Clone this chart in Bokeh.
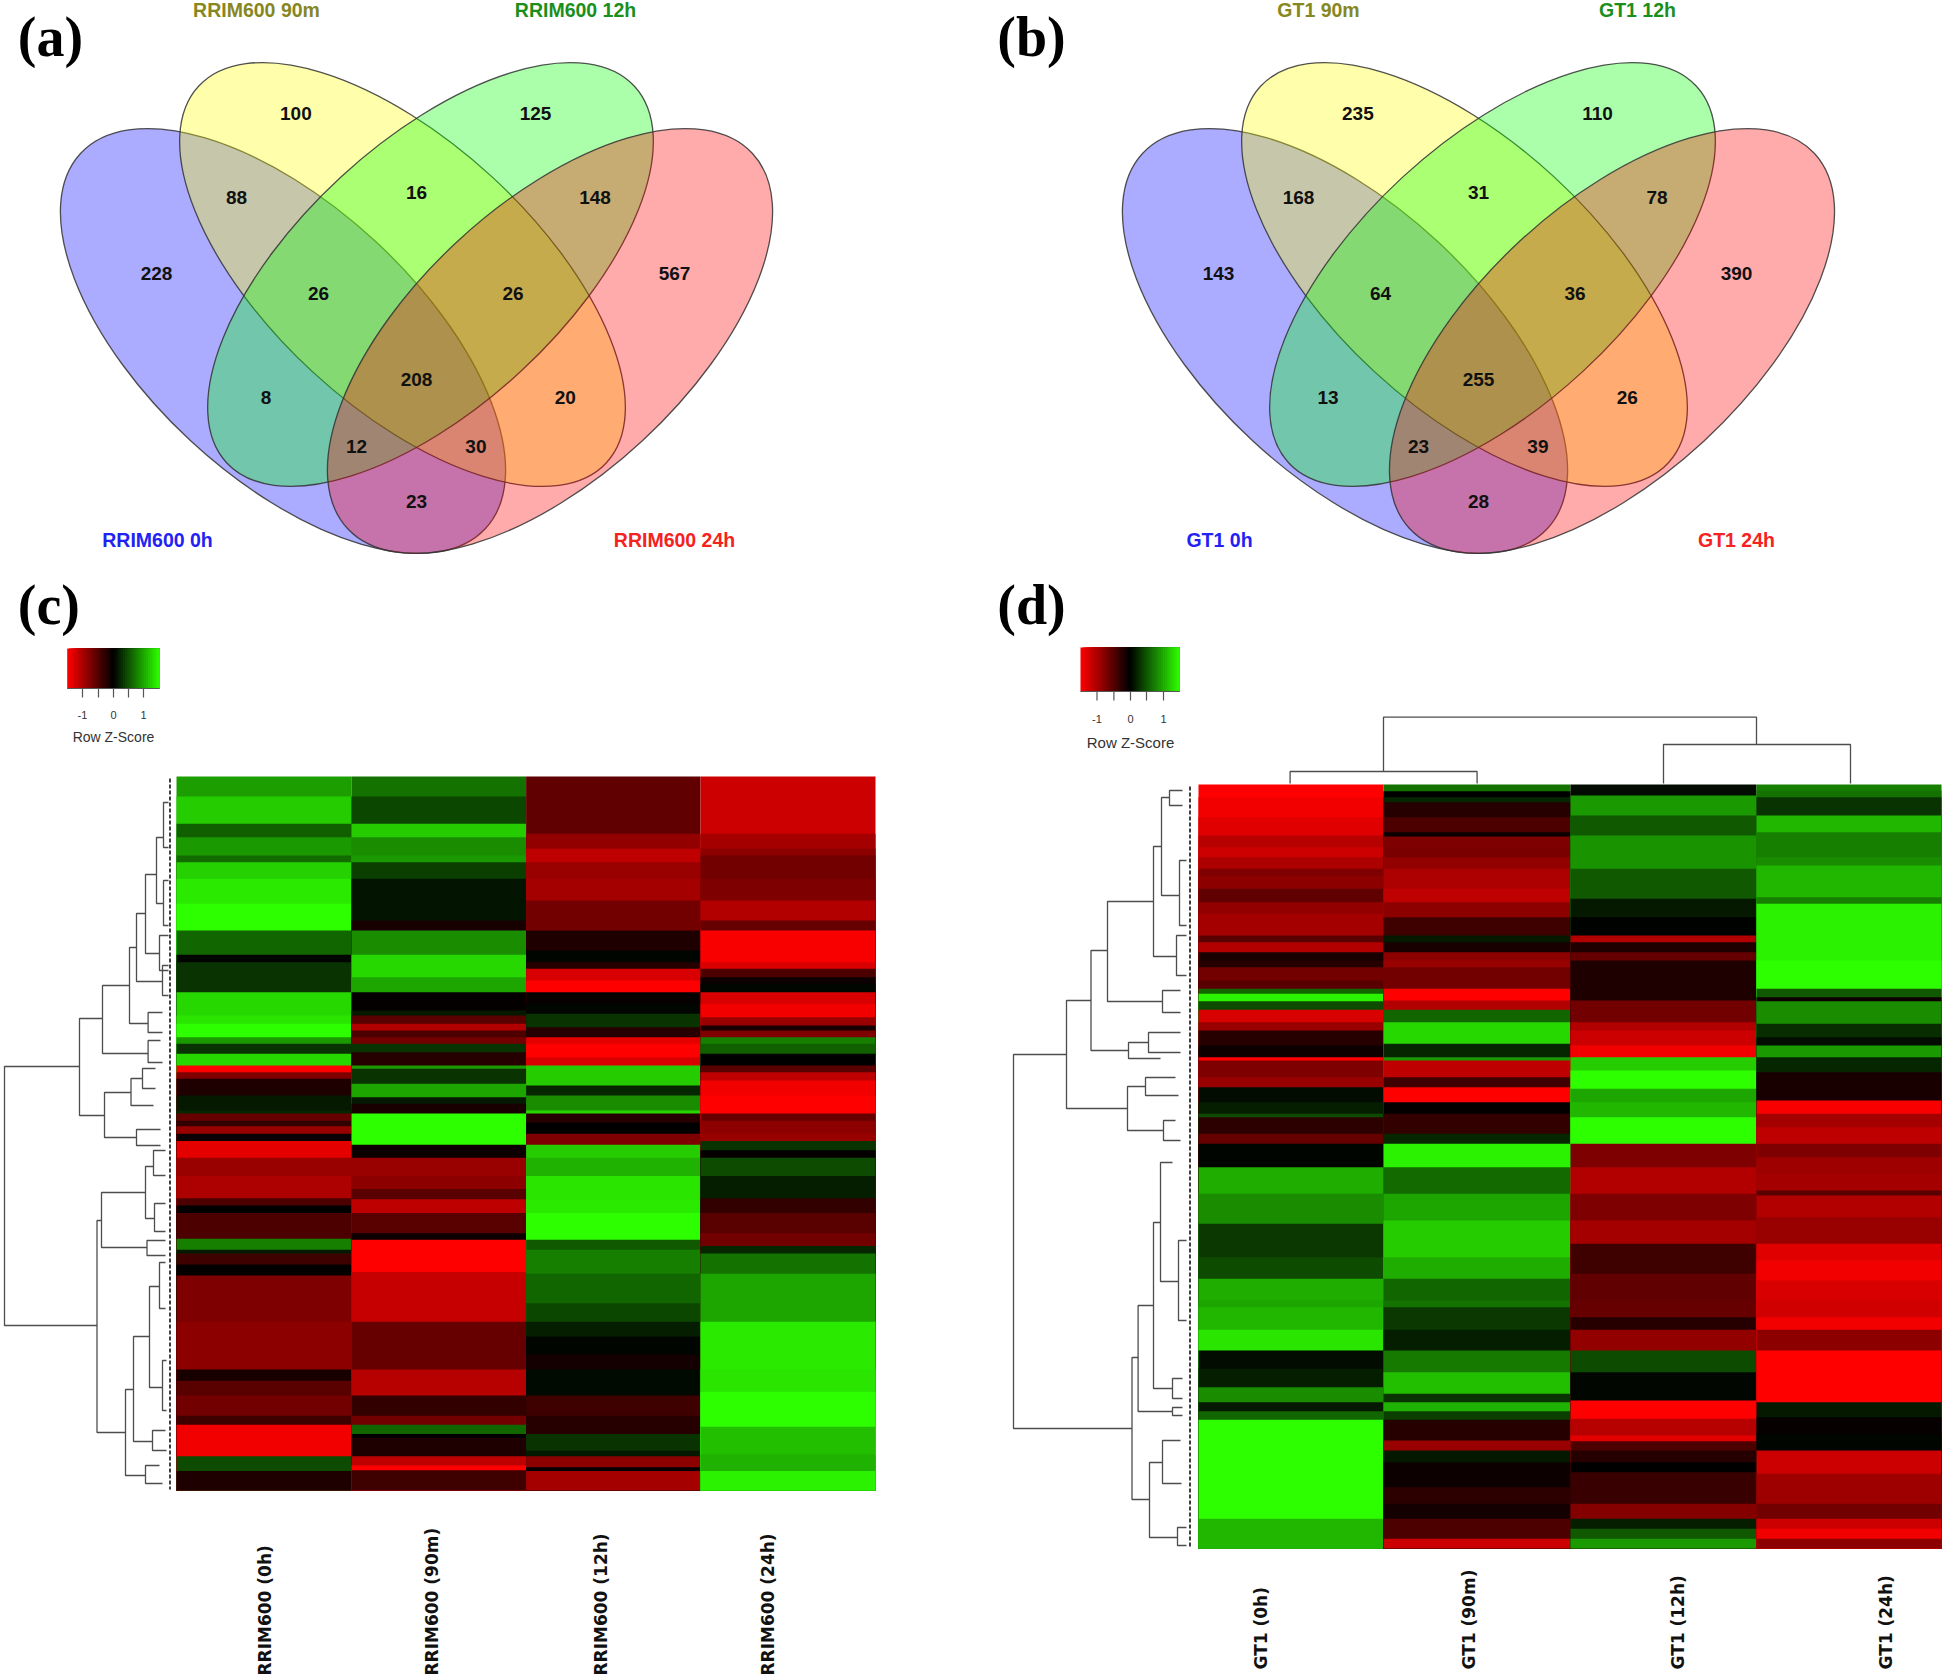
from bokeh.plotting import figure
from bokeh.models import Range1d
from bokeh.embed import file_html
from bokeh.resources import INLINE
from bokeh.core.properties import value
import math

WIDTH, HEIGHT = 1946, 1678

# ---------- Venn data ----------
venn_a = [100,125,88,16,148,228,26,26,567,8,208,20,12,30,23]
venn_b = [235,110,168,31,78,143,64,36,390,13,255,26,23,39,28]
labels_a = ["RRIM600 90m","RRIM600 12h","RRIM600 0h","RRIM600 24h"]
labels_b = ["GT1 90m","GT1 12h","GT1 0h","GT1 24h"]
label_colors = ["#87871f","#1b8f1b","#2222f5","#f52222"]
label_x = [256,575,157,674]
label_y = [9,9,539,539]
region_x = [295.4,535,236,416,594.5,156,318,512.6,674,265.6,416,564.7,356,475.4,416]
region_y = [113,113,197,192,197,273,293,293,273,397,378.5,397,445.6,445.6,501]
ell_x = [282.5,402,430,549.5]
ell_y = [340.5,274,274,340.5]
ell_w = [552,555,555,552]
ell_h = [272,265,265,272]
ell_angle = [-42.8,-42.7,42.7,42.8]
ell_color = ["#0000ff","#ffff00","#00ff00","#ff0000"]
B_SHIFT = 1062

# ---------- heatmap (c): (band end in crop units, z value) ----------
c_0h_u = [(78,.62),(160,.8),(200,.38),(255,.6),(275,.42),(325,.82),(400,.92),(480,1.0),(553,.4),(575,.02),(665,.2),
          (735,.85),(760,.9),(800,1.0),(820,.6),(850,.2),(885,.85),(905,-1),(925,-.5),(975,-.12),(1020,.1)]
c_90_u = [(78,.45),(160,.28),(200,.8),(255,.55),(275,.6),(325,.25),(450,.08),(480,-.1),(553,.55),(620,.85),(665,.65),
          (720,-.02),(735,.1),(760,-.35),(780,-.7),(800,-.3),(820,-.45),(845,.2),(885,-.15),(895,.6),(940,.2),(980,.65),(1000,.1),(1020,-.1)]
c_12_u = [(190,-.38),(235,-.58),(275,-.75),(325,-.6),(390,-.65),(480,-.45),(540,-.12),(575,.02),(595,-.15),(630,-.85),(665,-1),
          (700,-.03),(730,.03),(770,.2),(800,-.15),(820,-.9),(860,-1),(885,-.85),(945,.8),(975,.15),(1020,.55)]
c_24_u = [(190,-.8),(235,-.65),(255,-.55),(325,-.45),(390,-.5),(450,-.7),(480,-.4),(575,-.98),(595,-.85),(620,-.3),(640,-.05),(665,.03),
          (700,-.85),(740,-.95),(765,-.6),(780,-.1),(800,-.5),(820,.5),(850,.38),(885,0),(905,-.35),(930,-.75),(975,-.95),(1020,-1)]
c_0h_l = [(35,.15),(55,-.4),(70,-.2),(90,-.6),(110,-.05),(155,-.9),(205,-.6),(265,-.68),(285,-.3),(305,0),(375,-.3),(405,.5),(415,.1),
          (445,-.25),(475,-.02),(600,-.5),(730,-.55),(760,-.1),(800,-.35),(855,-.45),(880,-.25),(965,-.95),(1005,.3),(1058,-.12)]
c_90_l = [(35,-.1),(120,1.0),(155,-.05),(205,-.6),(240,-.55),(268,-.35),(305,-.75),(360,-.35),(378,-.05),(465,-1),(600,-.78),(730,-.4),
          (800,-.72),(855,-.2),(880,-.45),(905,.4),(915,0),(965,-.12),(990,-.75),(1003,-1),(1058,-.25)]
c_12_l = [(35,.85),(60,-.15),(90,0),(120,-.5),(155,.8),(205,.7),(270,.9),(305,.92),(378,1.0),(405,.35),(470,.5),(550,.4),(600,.28),(640,.12),
          (690,.02),(730,-.08),(800,.04),(855,-.25),(905,-.15),(950,.2),(965,.1),(995,-.55),(1005,-.02),(1058,-.65)]
c_24_l = [(35,-1),(55,-.4),(90,-.55),(110,-.6),(135,.2),(155,-.02),(205,.3),(265,.12),(305,-.2),(360,-.35),(395,-.45),(415,.15),(470,.45),
          (600,.65),(730,.92),(790,.9),(885,1.0),(960,.75),(1005,.7),(1058,.95)]

# ---------- heatmap (d) ----------
d_0h_1 = [(530,-1),(590,-.95),(645,-.88),(680,-.72),(710,-.8),(745,-.68),(765,-.5),(805,-.55),(845,-.38),(880,-.58),(945,-.65),(965,-.35),(995,-.7),(1020,-.1)]
d_0h_2 = [(20,-.15),(60,-.45),(85,-.35),(100,.4),(122,.95),(148,.3),(185,-.85),(210,-.6),(255,-.15),(290,-.05),(300,-1),(350,-.5),(380,-.6),(425,.05),
          (460,.12),(470,.3),(520,-.18),(550,-.4),(620,.02),(700,.68),(790,.55),(890,.22),(955,.3),(1020,.68)]
d_0h_3 = [(20,.65),(88,.72),(150,.9),(205,.05),(260,.12),(305,.55),(332,.1),(358,.4),(655,1.0),(745,.72)]
d_90_1 = [(512,.45),(530,0),(545,.15),(590,-.15),(635,-.3),(648,-.05),(680,-.5),(710,-.48),(745,-.58),(805,-.68),(845,-.75),(890,-.55),(945,-.25),(965,.1),(995,-.1),(1020,-.55)]
d_90_2 = [(20,-.6),(85,-.45),(120,-1),(148,-.7),(185,.4),(250,.85),(290,.15),(300,.6),(350,-.75),(380,-.25),(425,-1),(460,-.02),(520,-.2),(550,.15),(620,.95),
          (700,.42),(780,.65),(890,.8),(955,.68),(1020,.4)]
d_90_3 = [(20,.45),(88,.22),(150,.12),(215,.48),(280,.75),(305,.2),(332,.7),(358,.25),(420,-.15),(450,-.6),(485,.1),(560,-.05),(610,-.18),(655,-.08),(715,-.3),(745,-.8)]
d_12_1 = [(525,.05),(585,.6),(645,.35),(745,.58),(835,.35),(890,.1),(945,.01),(965,-.7),(995,-.12),(1020,-.4)]
d_12_2 = [(120,-.12),(185,-.45),(210,-.7),(255,-.8),(290,-.95),(330,.8),(385,1.0),(425,.65),(470,.72),(550,1.0),(620,-.5),(700,-.7),(780,-.5),(850,-.65),(940,-.25),(1020,-.38)]
d_12_3 = [(50,-.4),(88,-.15),(150,-.58),(215,.3),(300,.03),(355,-1),(405,-.72),(422,-.9),(450,-.3),(485,-.15),(515,0),(610,-.22),(655,-.52),(685,.12),(715,.35),(745,.6)]
d_24_1 = [(510,.5),(530,.45),(585,.2),(635,.72),(710,.5),(735,.55),(830,.72),(850,.5),(1020,.95)]
d_24_2 = [(85,1.0),(110,.35),(122,-.05),(190,.55),(230,.18),(255,.05),(290,.6),(335,.15),(420,-.1),(460,-.98),(500,-.65),(550,-.75),(590,-.5),(640,-.62),(690,-.65),(705,-.35),
          (770,-.7),(850,-.6),(900,-.88),(960,-.95),(1020,-.85)]
d_24_3 = [(50,-.82),(88,-.95),(150,-.55),(305,-1),(350,.1),(400,-.03),(450,.02),(520,-.8),(610,-.62),(655,-.45),(685,-.8),(715,-.95),(745,-.55)]

c_cols = ["RRIM600 (0h)","RRIM600 (90m)","RRIM600 (12h)","RRIM600 (24h)"]
d_cols = ["GT1 (0h)","GT1 (90m)","GT1 (12h)","GT1 (24h)"]
c_label_x = [264,431,600.6,767]
d_label_x = [1260,1468,1677,1885]

# dendrogram merges: height, upper leaf, lower leaf, upper child height, lower child height
c_tree = [(4,1066,1325,79,96.5),(79,1018,1115,102,104),(102,985,1053,129,147.6),(129,947,1023,136,147.6),(136,913,981,145,162),
          (145,874,953,156,159),(156,837,903,163,163),(163,802,847,168,168),(163,880,925,168,168),(159,935,970,168,168),(162,965,995,168,168),
          (147.6,1012,1032,162,162),(147.6,1040,1062,160,162),(104,1092,1137,130.5,136),(130.5,1078,1105,142,153),(136,1129,1145,160,160),
          (142,1068,1088,155,155),(96.5,1220,1432,101,125),(101,1192,1247,145,146.5),(145,1166,1218,153,154),(153,1150,1175,165,165),
          (154,1203,1231,165,165),(146.5,1240,1255,165,165),(125,1389,1475,133,145),(133,1336,1441,149,152),(149,1286,1387,159,162),
          (159,1262,1308,165,165),(162,1360,1410,166,166),(152,1430,1450,165,166),(145,1465,1483,159,162)]
d_tree = [(1013,1054,1428,1066,1131.5),(1066,1000,1108,1090.5,1127),(1090.5,950,1050,1107,1128),(1107,901,1001,1153,1162),
          (1153,846,956,1161,1176),(1161,797,895,1169,1179),(1169,790,805,1182,1182),(1179,860,925,1186,1186),(1176,935,975,1186,1186),
          (1162,990,1012,1180,1180),(1128,1042,1058,1148,1160),(1148,1032,1052,1180,1180),(1127,1086,1130,1145,1163),(1145,1077,1095,1175,1178),
          (1163,1120,1140,1175,1180),(1131.5,1357,1499,1137.6,1149),(1137.6,1305,1411,1153,1172),(1153,1222,1388,1160,1172),
          (1160,1162,1281,1172,1178),(1172,1378,1398,1182,1182),(1172,1407,1415,1182,1182),(1178,1240,1320,1186,1186),(1149,1462,1537,1162,1177),
          (1162,1440,1483,1180,1181),(1177,1527,1545,1186,1186)]
col_tree = [(716.7,1383,1756,771,744),(771,1289.6,1476.6,783,783),(744,1663,1850,783,783)]


def z_color(v):
    m = abs(v)
    if v < 0:
        return "#%02x%02x%02x" % (int(255*m), 0, 0)
    return "#%02x%02x%02x" % (int(46*m), int(255*m), 0)


p = figure(width=WIDTH, height=HEIGHT, x_range=Range1d(0, WIDTH), y_range=Range1d(HEIGHT, 0),
           toolbar_location=None, output_backend="svg", min_border=0, background_fill_color="white", border_fill_color="white")
p.axis.visible = False
p.grid.visible = False
p.outline_line_color = None

# Venn panels
for shift, counts, names in ((0, venn_a, labels_a), (B_SHIFT, venn_b, labels_b)):
    p.ellipse([x+shift for x in ell_x], ell_y, width=ell_w, height=ell_h, angle=ell_angle, angle_units="deg",
              fill_color=ell_color, fill_alpha=0.33, line_color="#333333", line_width=1.3, line_alpha=0.85)
    p.text([x+shift for x in region_x], region_y, text=[str(c) for c in counts], text_align="center", text_baseline="middle",
           text_font=value("Liberation Sans"), text_font_style="bold", text_font_size="19px", text_color="#111111")
    p.text([x+shift for x in label_x], label_y, text=names, text_align="center", text_baseline="middle",
           text_font=value("Liberation Sans"), text_font_style="bold", text_font_size="19.5px", text_color=label_colors)


def draw_heat(col_edges, top, bottom, columns):
    left, right, t, b, col = [], [], [], [], []
    for i, crops in enumerate(columns):
        prev = top
        for y0, scale, bands in crops:
            for end, v in bands:
                left.append(col_edges[i]); right.append(col_edges[i+1])
                t.append(prev); b.append(bottom); col.append(z_color(v))
                prev = min(bottom, y0 + end/scale)
    p.quad(left=left, right=right, top=t, bottom=b, fill_color=col, line_color=None)


draw_heat([176,351,525.6,700,875], 776, 1490, [
    [(770,3,c_0h_u),(1100,2.713,c_0h_l)], [(770,3,c_90_u),(1100,2.713,c_90_l)],
    [(770,3,c_12_u),(1100,2.713,c_12_l)], [(770,3,c_24_u),(1100,2.713,c_24_l)]])
draw_heat([1198,1383,1570,1756,1941], 784, 1548, [
    [(620,3,d_0h_1),(960,3,d_0h_2),(1300,3,d_0h_3)], [(620,3,d_90_1),(960,3,d_90_2),(1300,3,d_90_3)],
    [(620,3,d_12_1),(960,3,d_12_2),(1300,3,d_12_3)], [(620,3,d_24_1),(960,3,d_24_2),(1300,3,d_24_3)]])


def draw_row_tree(tree):
    xs, ys = [], []
    for h, a, b, ca, cb in tree:
        xs.append([ca, h, h, cb]); ys.append([a, a, b, b])
    p.multi_line(xs, ys, line_color="#4d4d4d", line_width=1.3)


draw_row_tree(c_tree)
draw_row_tree(d_tree)
p.multi_line([[a, a, b, b] for _, a, b, _, _ in col_tree], [[ca, h, h, cb] for h, _, _, ca, cb in col_tree],
             line_color="#4d4d4d", line_width=1.3)
p.line([169.5, 169.5], [778, 1489], line_color="#111111", line_width=1.6, line_dash="4 2")
p.line([1189.5, 1189.5], [786, 1547], line_color="#111111", line_width=1.6, line_dash="4 2")

p.text(c_label_x, [1675]*4, text=c_cols, angle=math.pi/2, text_align="left", text_baseline="middle",
       text_font=value("DejaVu Sans"), text_font_style="bold", text_font_size="17px", text_color="#111111")
p.text(d_label_x, [1669]*4, text=d_cols, angle=math.pi/2, text_align="left", text_baseline="middle",
       text_font=value("DejaVu Sans"), text_font_style="bold", text_font_size="17px", text_color="#111111")


def draw_key(x0, x1, y0, y1, ticks, tick_end, lab_y, title_y, title_size):
    n = 48
    lo = [x0 + (x1-x0)*i/n for i in range(n)]
    cols = [z_color(-1 + 2*(i+.5)/n) for i in range(n)]
    p.quad(left=lo, right=[x1]*n, top=y0, bottom=y1, fill_color=cols, line_color=None)
    p.segment(x0=ticks, x1=ticks, y0=[y1]*5, y1=[tick_end]*5, line_color="#555555", line_width=1.2)
    p.segment(x0=[x0], x1=[x1], y0=[y1], y1=[y1], line_color="#555555", line_width=1)
    p.text([ticks[0], ticks[2], ticks[4]], [lab_y]*3, text=["-1","0","1"], text_align="center", text_baseline="middle",
           text_font=value("Liberation Sans"), text_font_size="11px", text_color="#333333")
    p.text([ticks[2]], [title_y], text=["Row Z-Score"], text_align="center", text_baseline="middle",
           text_font=value("Liberation Sans"), text_font_size=title_size, text_color="#333333")


draw_key(66.7, 159, 648, 688, [82,98,113,128,143], 697, 714, 736, "14px")
draw_key(1080, 1179, 647, 691, [1096.5,1113.4,1130,1146,1163], 700, 718, 742, "15px")

p.text([50,1031,48.4,1031], [36,36,604,604], text=["(a)","(b)","(c)","(d)"], text_align="center", text_baseline="middle",
       text_font=value("Liberation Serif"), text_font_style="bold", text_font_size="56px", text_color="black")

open("out.html", "w").write(file_html(p, INLINE))
